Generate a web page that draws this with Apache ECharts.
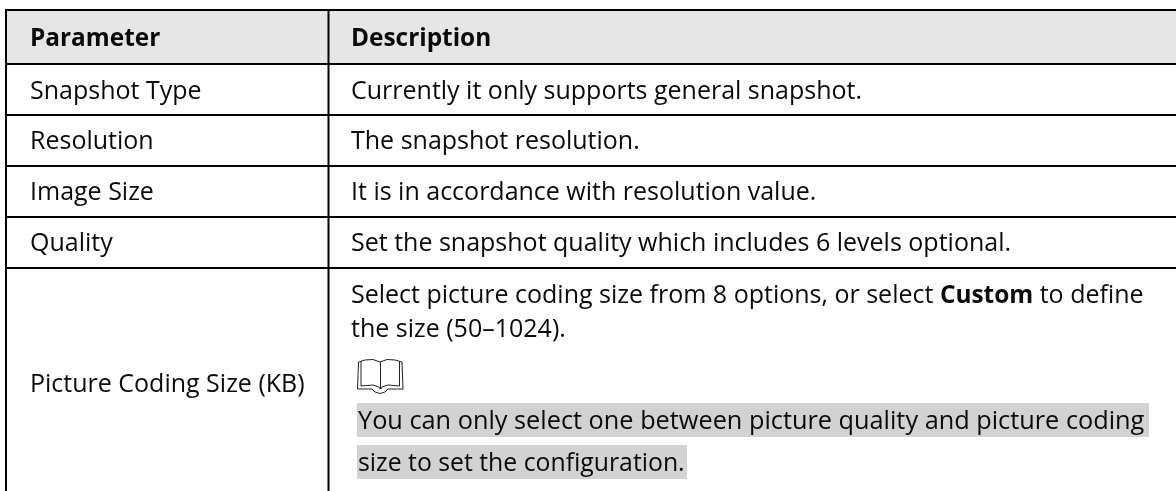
<!DOCTYPE html>
<html>
<head>
<meta charset="utf-8">
<style>html,body{margin:0;padding:0;background:#fff}#main{width:1176px;height:491px}</style>
<script src="https://cdn.jsdelivr.net/npm/echarts@6/dist/echarts.min.js"></script>
</head>
<body>
<div id="main"></div>
<script>
// table content
var headers = ['Parameter', 'Description'];
var parameters = ['Snapshot Type', 'Resolution', 'Image Size', 'Quality', 'Picture Coding Size (KB)'];
var descriptions = [
    'Currently it only supports general snapshot.',
    'The snapshot resolution.',
    'It is in accordance with resolution value.',
    'Set the snapshot quality which includes 6 levels optional.'
];
var codingLines = [
    'Select picture coding size from 8 options, or select {b|Custom} to define',
    'the size (50–1024).'
];
var noteLines = [
    'You can only select one between picture quality and picture coding',
    'size to set the configuration.'
];

// layout of the table on the page
var FONT = 'Open Sans';
var SIZE = 25, BOLD_SIZE = 24.4;
var noteSizes = [25.3, 24.8];
var LEFT = 6, DIVIDER = 328.5, RIGHT = 1176, BOTTOM = 491;
var ruleY = [10, 64, 115, 166, 217, 268];
var col1X = 30, col2X = 351, noteX = 357;
var rowTextY = [39, 92, 142, 193, 244, 385];
var codingY = [296, 330];
var noteY = [422, 464];
var noteBox = [[403, 34, 792], [445, 34, 330]];

function line(x1, y1, x2, y2) {
    return {type: 'line', shape: {x1: x1, y1: y1, x2: x2, y2: y2}, style: {stroke: '#000', lineWidth: 2}, z: 5};
}
function label(x, y, text, bold, size) {
    return {
        type: 'text', x: x, y: y, z: 10,
        style: {
            text: text, fill: '#0a0a0a', verticalAlign: 'middle',
            fontFamily: FONT, fontSize: bold ? BOLD_SIZE : (size || SIZE), fontWeight: bold ? 'bold' : 'normal',
            rich: {b: {fontFamily: FONT, fontWeight: 'bold', fontSize: BOLD_SIZE, fill: '#0a0a0a'}}
        }
    };
}
function icon(points) {
    return {type: 'polyline', x: 357, y: 359, z: 10, shape: {points: points}, style: {fill: 'none', stroke: '#222', lineWidth: 1}};
}

var elements = [];
elements.push({type: 'rect', shape: {x: LEFT, y: ruleY[0], width: RIGHT - LEFT, height: ruleY[1] - ruleY[0]}, style: {fill: '#e6e6e6'}});
noteBox.forEach(function (b) {
    elements.push({type: 'rect', shape: {x: noteX, y: b[0], width: b[2], height: b[1]}, style: {fill: '#d2d2d2'}});
});
ruleY.forEach(function (y) { elements.push(line(LEFT - 1, y, RIGHT, y)); });
elements.push(line(LEFT, ruleY[0], LEFT, BOTTOM));
elements.push(line(DIVIDER, ruleY[0], DIVIDER, BOTTOM));

elements.push(label(col1X, rowTextY[0], headers[0], true));
elements.push(label(col2X, rowTextY[0], headers[1], true));
parameters.forEach(function (t, i) { elements.push(label(col1X, rowTextY[i + 1], t)); });
descriptions.forEach(function (t, i) { elements.push(label(col2X, rowTextY[i + 1], t)); });
codingLines.forEach(function (t, i) { elements.push(label(col2X, codingY[i], t)); });
noteLines.forEach(function (t, i) { elements.push(label(noteX + 1, noteY[i], t, false, noteSizes[i])); });

// note icon: open book
elements.push(icon([[0.5, 30], [1.5, 3], [8, 1], [16, 0.5], [23, 3], [30, 0.5], [38, 1], [45, 3], [46, 30], [31, 30], [28, 33], [23, 34.5], [18, 33], [15, 30], [0.5, 30]]));
elements.push(icon([[4, 2], [4, 27], [16, 26], [22, 28], [23, 30]]));
elements.push(icon([[42.5, 2], [42.5, 27], [31, 26], [25, 28], [24, 30]]));
elements.push(icon([[23.5, 3], [23.5, 30]]));

var myChart = echarts.init(document.getElementById('main'));
myChart.setOption({
    animation: false,
    backgroundColor: '#fff',
    graphic: {elements: elements}
});
</script>
</body>
</html>
